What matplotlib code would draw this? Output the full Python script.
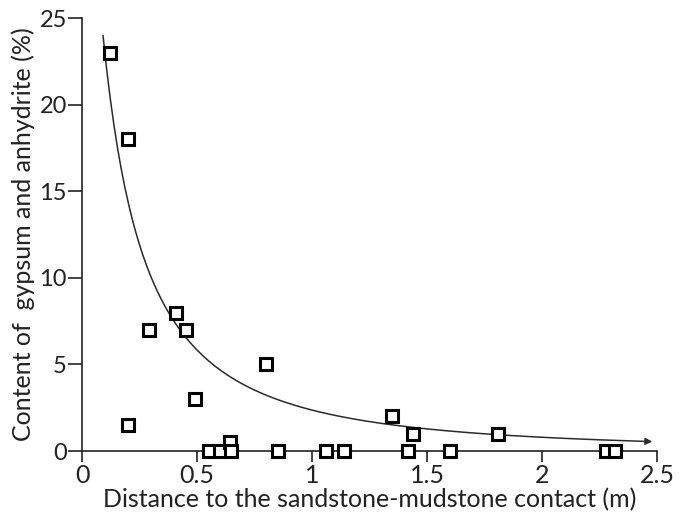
import numpy as np
import matplotlib
matplotlib.use("Agg")
import matplotlib.pyplot as plt

plt.rcParams["font.family"] = ["Lato", "DejaVu Sans"]

# === Data ===
distance = [0.12, 0.20, 0.20, 0.29, 0.41, 0.45, 0.49, 0.55, 0.60, 0.643, 0.648,
            0.80, 0.85, 1.06, 1.14, 1.348, 1.417, 1.44, 1.60, 1.81, 2.28, 2.32]
content = [23.0, 18.0, 1.5, 7.0, 8.0, 7.0, 3.0, 0.0, 0.0, 0.5, 0.0,
           5.0, 0.0, 0.0, 0.0, 2.0, 0.0, 1.0, 0.0, 1.0, 0.0, 0.0]

# trend line: ln(y) = a*ln(x)^2 + b*ln(x) + c
trend_coef = [-0.1970, -1.4388, 0.8605]
trend_start, trend_end = 0.091, 2.48

fig = plt.figure(figsize=(6.9, 5.19), dpi=100)
ax = fig.add_axes([0.119, 0.131, 0.833, 0.834])

# trend curve with arrow head at the end
xx = np.linspace(trend_start, trend_end - 0.03, 300)
yy = np.exp(np.polyval(trend_coef, np.log(xx)))
ax.plot(xx, yy, color="#2b2b2b", lw=1.1, zorder=2)
x_tip = trend_end
y_tip = np.exp(np.polyval(trend_coef, np.log(x_tip)))
ax.annotate("", xy=(x_tip, y_tip), xytext=(xx[-1], yy[-1]),
            arrowprops=dict(arrowstyle="-|>", color="#2b2b2b", lw=1.1,
                            mutation_scale=10, shrinkA=0, shrinkB=0),
            annotation_clip=False)

# data points
ax.plot(distance, content, linestyle="none", marker="s", markersize=8.5,
        markerfacecolor="white", markeredgecolor="black", markeredgewidth=2.2,
        clip_on=False, zorder=3)

ax.set_xlim(0, 2.5)
ax.set_ylim(0, 25)
ax.set_xticks([0, 0.5, 1, 1.5, 2, 2.5])
ax.set_xticklabels(["0", "0.5", "1", "1.5", "2", "2.5"])
ax.set_yticks([0, 5, 10, 15, 20, 25])

for s in ["top", "right"]:
    ax.spines[s].set_visible(False)
for s in ["left", "bottom"]:
    ax.spines[s].set_linewidth(1.2)
    ax.spines[s].set_color("#222222")

ax.tick_params(axis="x", direction="out", length=8, width=1.2, labelsize=18,
               pad=1, colors="#222222")
ax.tick_params(axis="y", direction="out", length=10, width=1.2, labelsize=17,
               pad=1, colors="#222222")

ax.set_xlabel("Distance to the sandstone-mudstone contact (m)", fontsize=18,
              color="#222222", labelpad=1)
ax.set_ylabel("Content of  gypsum and anhydrite (%)", fontsize=18,
              color="#222222", labelpad=3)

fig.savefig("out.png")
